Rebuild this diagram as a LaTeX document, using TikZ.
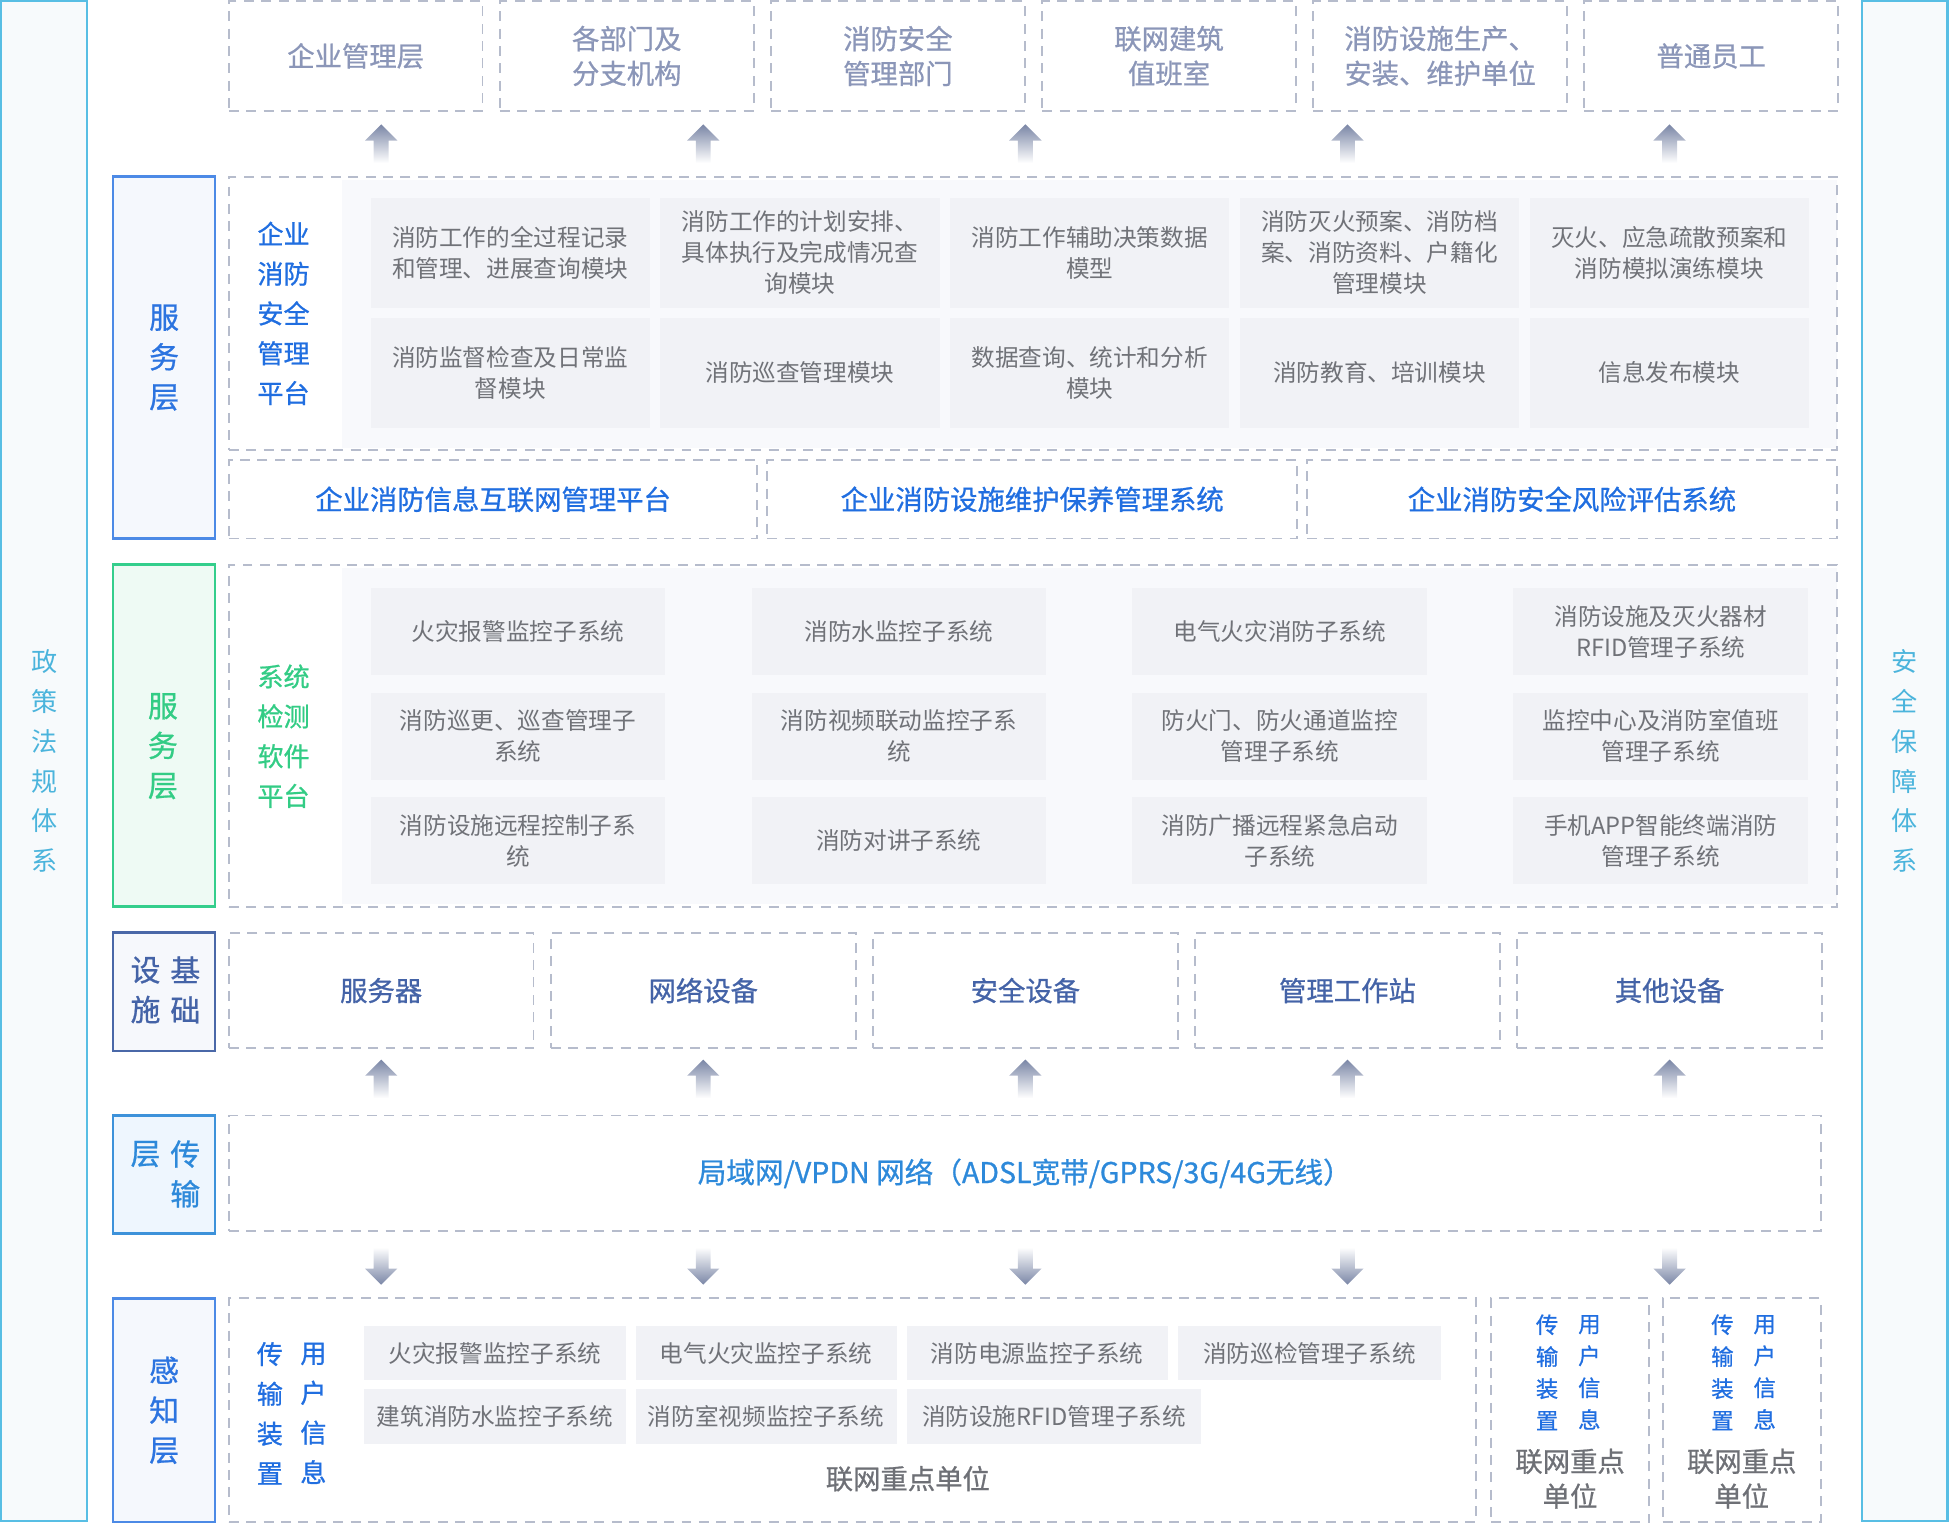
\documentclass[tikz,border=0pt]{standalone}
\usepackage{fontspec}
\setmainfont{Noto Sans CJK SC}
\newfontfamily\strongfont[FakeBold=0.8]{Noto Sans CJK SC}
\usetikzlibrary{positioning}
\definecolor{sidelinec}{RGB}{88,190,228}
\definecolor{sidefillc}{RGB}{247,250,252}
\definecolor{sidetextc}{RGB}{75,180,220}
\definecolor{dashgrayc}{RGB}{182,188,204}
\definecolor{toptextc}{RGB}{139,150,184}
\definecolor{arrowc}{RGB}{122,134,166}
\definecolor{svcbluec}{RGB}{76,138,230}
\definecolor{svcbluefillc}{RGB}{245,248,253}
\definecolor{svcbluetextc}{RGB}{44,116,224}
\definecolor{platbluec}{RGB}{32,110,224}
\definecolor{svcgreenc}{RGB}{52,206,140}
\definecolor{svcgreenfillc}{RGB}{238,250,244}
\definecolor{svcgreentextc}{RGB}{51,204,133}
\definecolor{basenavyc}{RGB}{74,104,168}
\definecolor{basefillc}{RGB}{246,248,252}
\definecolor{basetextc}{RGB}{68,99,167}
\definecolor{netbluec}{RGB}{61,146,218}
\definecolor{netfillc}{RGB}{238,246,254}
\definecolor{nettextc}{RGB}{45,137,218}
\definecolor{modfillc}{RGB}{241,242,246}
\definecolor{modtextc}{RGB}{112,114,120}
\definecolor{zonefillc}{RGB}{248,249,252}
\definecolor{unittextc}{RGB}{110,112,118}
\newcommand{\topwidth}{204pt}
\newcommand{\topgap}{14pt}
\newcommand{\modwidth}{224.5pt}
\newcommand{\modgap}{8.5pt}
\newcommand{\subwidth}{237pt}
\newcommand{\subgap}{69.3pt}
\newcommand{\basewidth}{245pt}
\newcommand{\basegap}{14pt}
\newcommand{\sensewidth}{210pt}
\newcommand{\sensegap}{8pt}
\tikzset{
    frame/.style={anchor=north west, inner sep=0pt, outer sep=0pt},
    dashbox/.style={frame, draw=dashgrayc, line width=1.5pt, dash pattern=on 8pt off 6pt},
    sidebox/.style={frame, draw=sidelinec, fill=sidefillc, line width=1.8pt},
    layerbox/.style={frame, line width=2pt},
    zone/.style={frame, fill=zonefillc},
    module/.style={frame, fill=modfillc, text=modtextc, align=center, font=\fontsize{19}{25}\selectfont},
    submodule/.style={module, minimum width=\subwidth, minimum height=70pt},
    platmodule/.style={module, minimum width=\modwidth, minimum height=88.5pt},
    sensemodule/.style={module, minimum width=\sensewidth, minimum height=44pt},
    sidetext/.style={text=sidetextc, align=center, inner sep=0pt, font=\fontsize{21}{32}\selectfont},
    toptext/.style={text=toptextc, align=center, font=\strongfont\fontsize{22}{28}\selectfont},
    vlabel/.style={align=center, inner sep=0pt, font=\strongfont\fontsize{24}{32}\selectfont},
    plabel/.style={align=center, inner sep=0pt, font=\strongfont\fontsize{21}{32}\selectfont},
    headtext/.style={font=\strongfont\fontsize{22}{28}\selectfont},
    unitname/.style={text=unittextc, align=center, inner sep=0pt, font=\strongfont\fontsize{22}{28}\selectfont},
    unitlabel/.style={text=platbluec, align=center, inner sep=0pt, font=\strongfont\fontsize{18}{25.7}\selectfont},
    lift/.style={top color=arrowc, middle color=arrowc!60, bottom color=white},
    drop/.style={top color=white, middle color=arrowc!60, bottom color=arrowc}
}
\begin{document}
\begin{tikzpicture}[x=1pt, y=-1pt]
\useasboundingbox (0,0) rectangle (1568,1225.5);

\node[sidebox, minimum width=69pt, minimum height=1222pt] (policy) at (1,1) {};
\node[sidetext] (policytext) at (policy.center) {政\\策\\法\\规\\体\\系};
\node[sidebox, minimum width=69pt, minimum height=1222pt] (safety) at (1497,1) {};
\node[sidetext] (safetytext) at (safety.center) {安\\全\\保\\障\\体\\系};

\node[dashbox, toptext, minimum width=\topwidth, minimum height=88pt] (top1) at (184,1) {企业管理层};
\node[dashbox, toptext, minimum width=\topwidth, minimum height=88pt, right=\topgap of top1] (top2) {各部门及\\分支机构};
\node[dashbox, toptext, minimum width=\topwidth, minimum height=88pt, right=\topgap of top2] (top3) {消防安全\\管理部门};
\node[dashbox, toptext, minimum width=\topwidth, minimum height=88pt, right=\topgap of top3] (top4) {联网建筑\\值班室};
\node[dashbox, toptext, minimum width=\topwidth, minimum height=88pt, right=\topgap of top4] (top5) {消防设施生产、\\安装、维护单位};
\node[dashbox, toptext, minimum width=\topwidth, minimum height=88pt, right=\topgap of top5] (top6) {普通员工};

\node[layerbox, draw=svcbluec, fill=svcbluefillc, minimum width=82pt, minimum height=291pt] (svcA) at (91,142) {};
\node[vlabel, text=svcbluetextc] (svcAtext) at (svcA.center) {服\\务\\层};
\node[zone, minimum width=1202pt, minimum height=215pt] (zoneA) at (275,145) {};
\node[dashbox, minimum width=1293pt, minimum height=220pt] (platA) at (184,142) {};
\node[plabel, text=platbluec] (platAtext) at (228,252) {企业\\消防\\安全\\管理\\平台};
\node[platmodule] (modA1) at (298,159) {消防工作的全过程记录\\和管理、进展查询模块};
\node[platmodule, right=\modgap of modA1] (modA2) {消防工作的计划安排、\\具体执行及完成情况查\\询模块};
\node[platmodule, right=\modgap of modA2] (modA3) {消防工作辅助决策数据\\模型};
\node[platmodule, right=\modgap of modA3] (modA4) {消防灭火预案、消防档\\案、消防资料、户籍化\\管理模块};
\node[platmodule, right=\modgap of modA4] (modA5) {灭火、应急疏散预案和\\消防模拟演练模块};
\node[platmodule, below=8pt of modA1] (modB1) {消防监督检查及日常监\\督模块};
\node[platmodule, right=\modgap of modB1] (modB2) {消防巡查管理模块};
\node[platmodule, right=\modgap of modB2] (modB3) {数据查询、统计和分析\\模块};
\node[platmodule, right=\modgap of modB3] (modB4) {消防教育、培训模块};
\node[platmodule, right=\modgap of modB4] (modB5) {信息发布模块};

\node[dashbox, headtext, text=platbluec, minimum width=425pt, minimum height=63pt] (sysA) at (184,370) {企业消防信息互联网管理平台};
\node[dashbox, headtext, text=platbluec, minimum width=426pt, minimum height=63pt, right=8pt of sysA] (sysB) {企业消防设施维护保养管理系统};
\node[dashbox, headtext, text=platbluec, minimum width=426pt, minimum height=63pt, right=8pt of sysB] (sysC) {企业消防安全风险评估系统};

\node[layerbox, draw=svcgreenc, fill=svcgreenfillc, minimum width=82pt, minimum height=275pt] (svcB) at (91,454) {};
\node[vlabel, text=svcgreentextc] (svcBtext) at (131,600) {服\\务\\层};
\node[zone, minimum width=1202pt, minimum height=270pt] (zoneB) at (275,457) {};
\node[dashbox, minimum width=1293pt, minimum height=275pt] (platB) at (184,454) {};
\node[plabel, text=svcgreentextc] (platBtext) at (228,592) {系统\\检测\\软件\\平台};
\node[submodule] (subA1) at (298,473) {火灾报警监控子系统};
\node[submodule, right=\subgap of subA1] (subA2) {消防水监控子系统};
\node[submodule, right=\subgap of subA2] (subA3) {电气火灾消防子系统};
\node[submodule, right=\subgap of subA3] (subA4) {消防设施及灭火器材\\RFID管理子系统};
\node[submodule, below=14pt of subA1] (subB1) {消防巡更、巡查管理子\\系统};
\node[submodule, right=\subgap of subB1] (subB2) {消防视频联动监控子系\\统};
\node[submodule, right=\subgap of subB2] (subB3) {防火门、防火通道监控\\管理子系统};
\node[submodule, right=\subgap of subB3] (subB4) {监控中心及消防室值班\\管理子系统};
\node[submodule, below=14pt of subB1] (subC1) {消防设施远程控制子系\\统};
\node[submodule, right=\subgap of subC1] (subC2) {消防对讲子系统};
\node[submodule, right=\subgap of subC2] (subC3) {消防广播远程紧急启动\\子系统};
\node[submodule, right=\subgap of subC3] (subC4) {手机APP智能终端消防\\管理子系统};

\node[layerbox, draw=basenavyc, fill=basefillc, minimum width=82pt, minimum height=95pt] (baseL) at (91,750) {};
\node[vlabel, text=basetextc] (baseLa) at (117,796) {设\\施};
\node[vlabel, text=basetextc] (baseLb) at (149,796) {基\\础};
\node[dashbox, headtext, text=basetextc, minimum width=\basewidth, minimum height=93pt] (base1) at (184,750) {服务器};
\node[dashbox, headtext, text=basetextc, minimum width=\basewidth, minimum height=93pt, right=\basegap of base1] (base2) {网络设备};
\node[dashbox, headtext, text=basetextc, minimum width=\basewidth, minimum height=93pt, right=\basegap of base2] (base3) {安全设备};
\node[dashbox, headtext, text=basetextc, minimum width=\basewidth, minimum height=93pt, right=\basegap of base3] (base4) {管理工作站};
\node[dashbox, headtext, text=basetextc, minimum width=\basewidth, minimum height=93pt, right=\basegap of base4] (base5) {其他设备};

\node[layerbox, draw=netbluec, fill=netfillc, minimum width=82pt, minimum height=95pt] (netL) at (91,897) {};
\node[vlabel, text=nettextc] (netLa) at (117,928) {层};
\node[vlabel, text=nettextc] (netLb) at (149,944) {传\\输};
\node[dashbox, headtext, text=nettextc, font=\strongfont\fontsize{23}{28}\selectfont, minimum width=1280pt, minimum height=93pt] (net) at (184,897) {局域网/VPDN 网络（ADSL宽带/GPRS/3G/4G无线）};

\node[layerbox, draw=svcbluec, fill=svcbluefillc, minimum width=82pt, minimum height=180pt] (senseL) at (91,1044) {};
\node[vlabel, text=svcbluetextc] (senseLtext) at (senseL.center) {感\\知\\层};
\node[dashbox, minimum width=1003pt, minimum height=180pt] (unitA) at (184,1044) {};
\node[plabel, text=platbluec] (unitAla) at (217,1136.5) {传\\输\\装\\置};
\node[plabel, text=platbluec] (unitAlb) at (252,1136.5) {用\\户\\信\\息};
\node[sensemodule] (senA1) at (293,1066) {火灾报警监控子系统};
\node[sensemodule, right=\sensegap of senA1] (senA2) {电气火灾监控子系统};
\node[sensemodule, right=\sensegap of senA2] (senA3) {消防电源监控子系统};
\node[sensemodule, right=\sensegap of senA3, minimum width=212pt] (senA4) {消防巡检管理子系统};
\node[sensemodule, below=7pt of senA1] (senB1) {建筑消防水监控子系统};
\node[sensemodule, right=\sensegap of senB1] (senB2) {消防室视频监控子系统};
\node[sensemodule, right=\sensegap of senB2, minimum width=237pt] (senB3) {消防设施RFID管理子系统};
\node[unitname] (unitAname) at (730,1189) {联网重点单位};
\node[dashbox, minimum width=127pt, minimum height=180pt] (unitB) at (1199,1044) {};
\node[unitlabel] (unitBla) at (1244,1103.5) {传\\输\\装\\置};
\node[unitlabel] (unitBlb) at (1278,1103.5) {用\\户\\信\\息};
\node[unitname] (unitBname) at (1262.5,1189) {联网重点\\单位};
\node[dashbox, minimum width=127pt, minimum height=180pt] (unitC) at (1337,1044) {};
\node[unitlabel] (unitCla) at (1385,1103.5) {传\\输\\装\\置};
\node[unitlabel] (unitClb) at (1419,1103.5) {用\\户\\信\\息};
\node[unitname] (unitCname) at (1400.5,1189) {联网重点\\单位};

\foreach \i in {1,...,5} {
    \path (base\i |- top1.south) ++(0,11) coordinate (liftA\i);
    \shade[lift] (liftA\i) -- ++(13,13) -- ++(-7,0) -- ++(0,18) -- ++(-12,0) -- ++(0,-18) -- ++(-7,0) -- cycle;
    \path (base\i.south) ++(0,9) coordinate (liftB\i);
    \shade[lift] (liftB\i) -- ++(13,13) -- ++(-7,0) -- ++(0,18) -- ++(-12,0) -- ++(0,-18) -- ++(-7,0) -- cycle;
    \path (base\i |- net.south) ++(-6,13) coordinate (drop\i);
    \shade[drop] (drop\i) -- ++(12,0) -- ++(0,17) -- ++(7,0) -- ++(-13,13) -- ++(-13,-13) -- ++(7,0) -- cycle;
}
\end{tikzpicture}
\end{document}
